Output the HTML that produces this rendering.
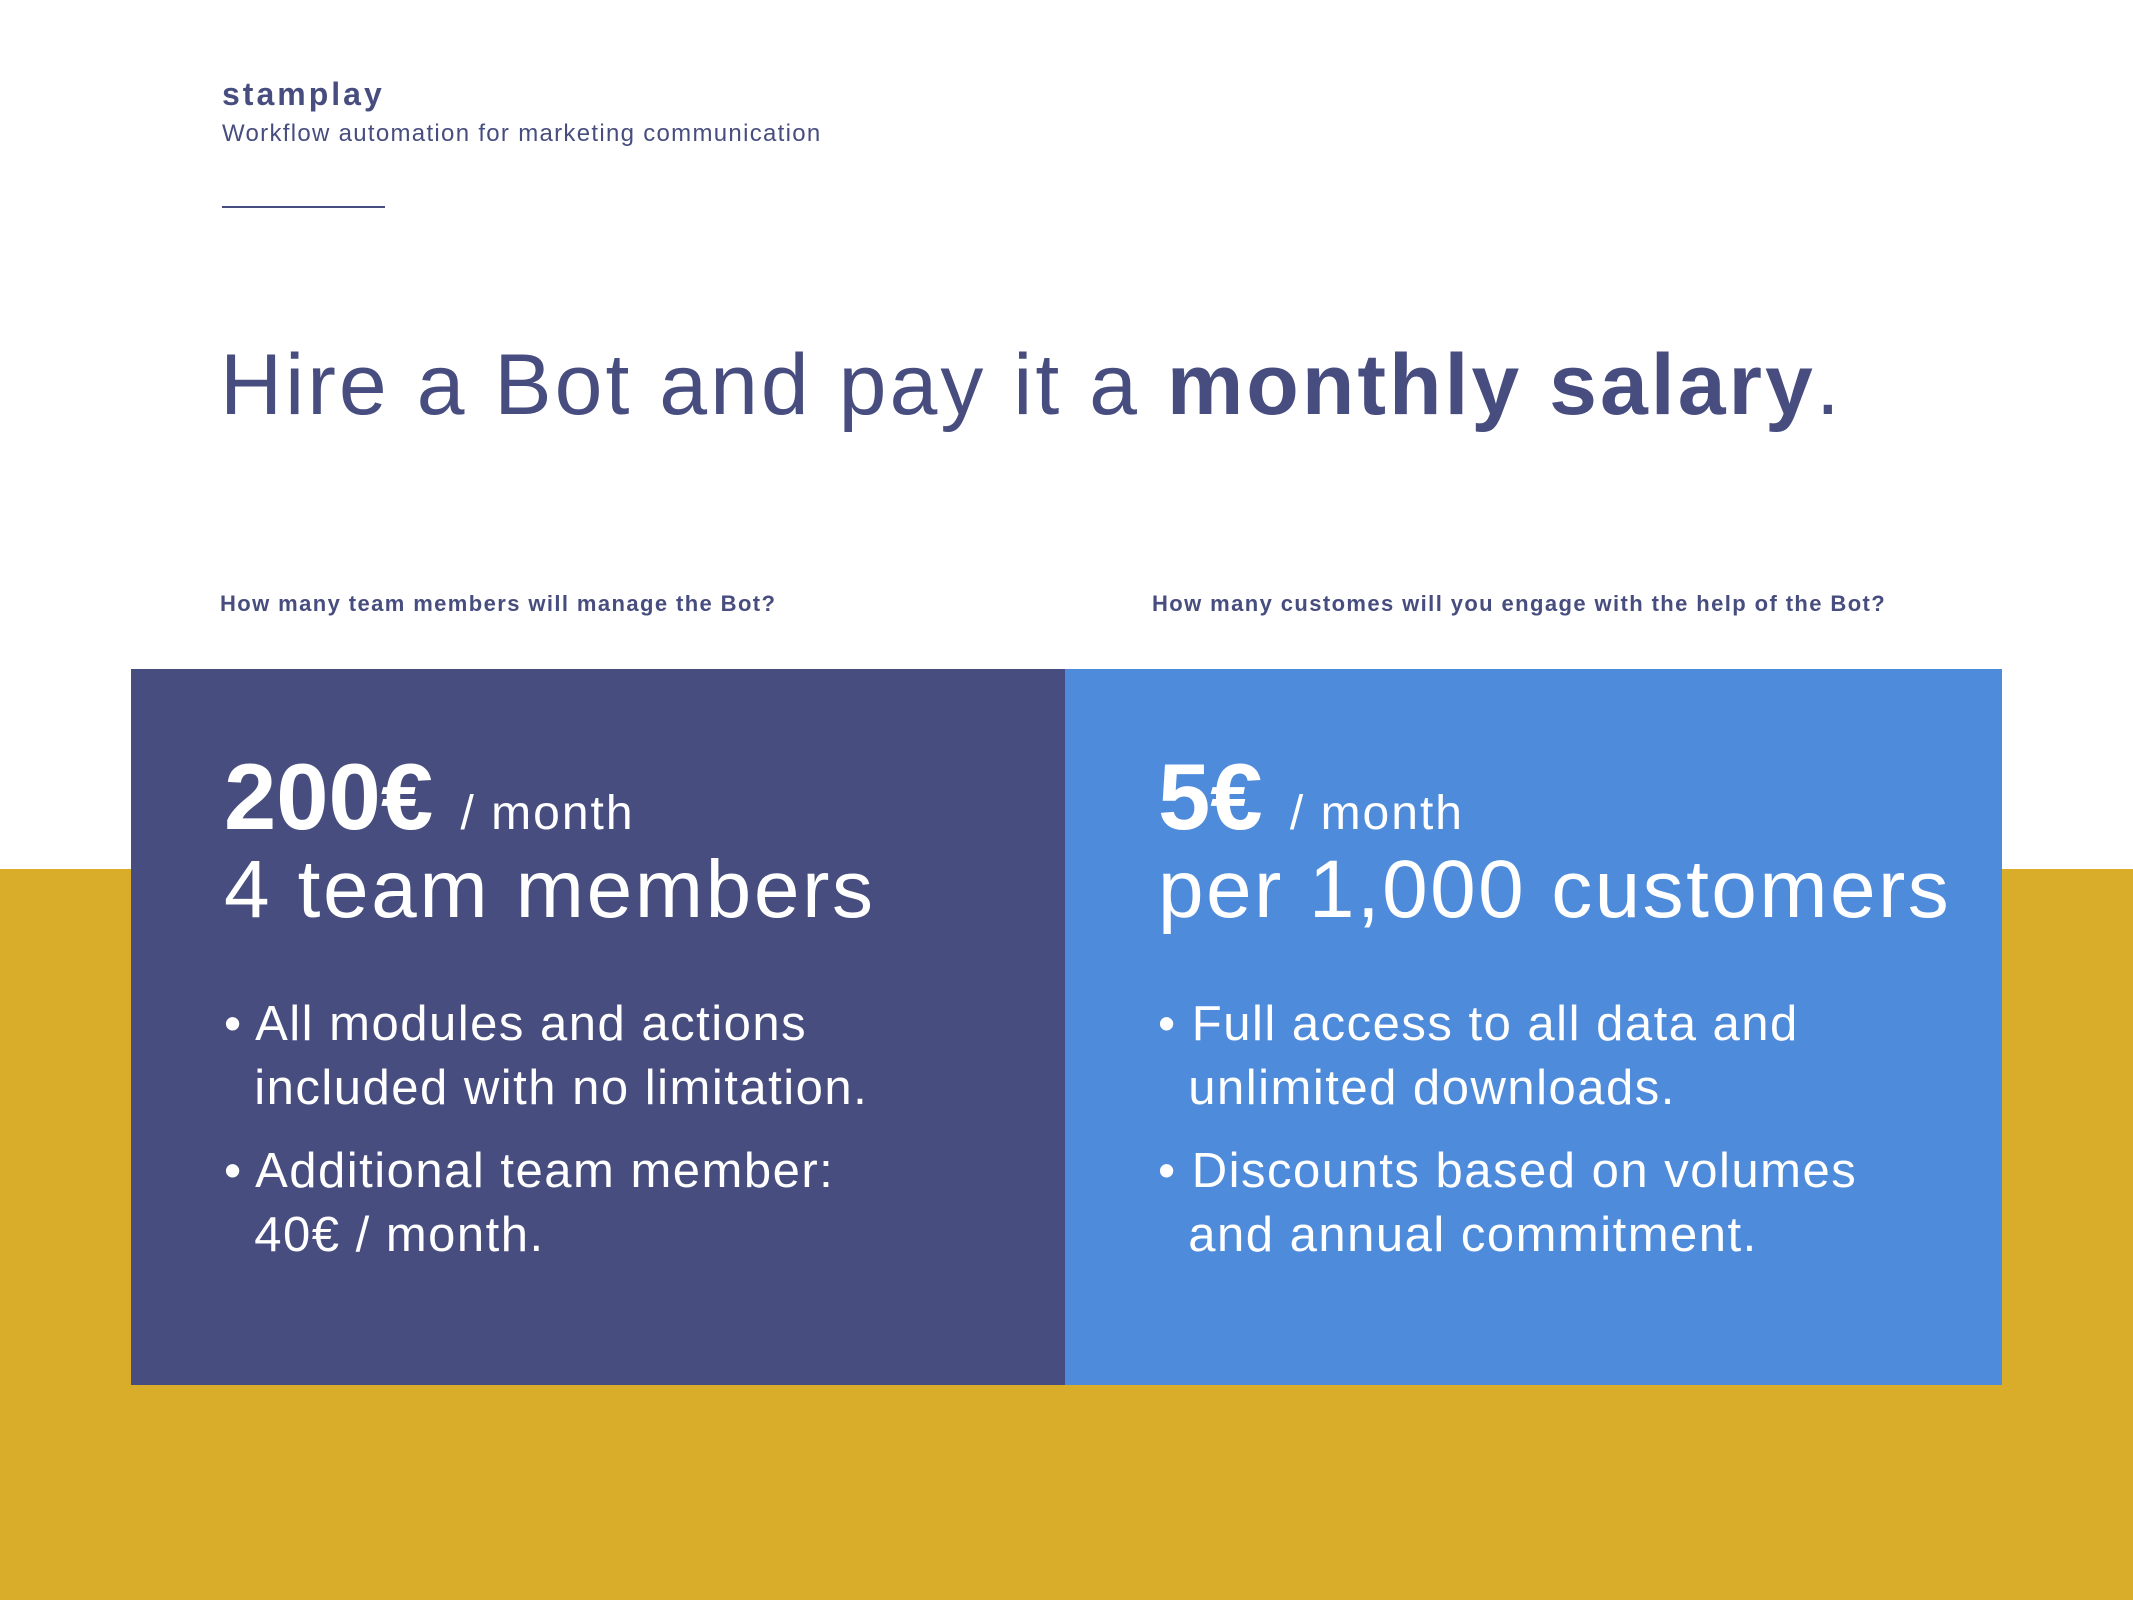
<!DOCTYPE html>
<html><head><meta charset="utf-8"><style>
body{margin:0;width:2133px;height:1600px;position:relative;background:#fff;overflow:hidden;font-family:"Liberation Sans",sans-serif;color:#474E7F}
div{position:absolute;line-height:1;white-space:nowrap}
.w{color:#fff}
</style></head><body>
<div style="left:222px;top:78px;font-size:32px;font-weight:bold;letter-spacing:3px">stamplay</div>
<div style="left:222px;top:122px;font-size:24px;letter-spacing:1.3px">Workflow automation for marketing communication</div>
<div style="left:222px;top:206px;width:163px;height:2px;background:#474E7F"></div>
<div style="left:220px;top:342px;font-size:86px;letter-spacing:3px">Hire a Bot and pay it a <b>monthly salary</b>.</div>
<div style="left:220px;top:593px;font-size:22px;font-weight:bold;letter-spacing:1.4px">How many team members will manage the Bot?</div>
<div style="left:1152px;top:593px;font-size:22px;font-weight:bold;letter-spacing:1.4px">How many customes will you engage with the help of the Bot?</div>
<div style="left:0;top:869px;width:2133px;height:731px;background:#D9AC2A"></div>
<div style="left:131px;top:669px;width:934px;height:716px;background:#474E7F"></div>
<div style="left:1065px;top:669px;width:937px;height:716px;background:#4F8BDB"></div>
<div class="w" style="left:224px;top:750px;font-size:94px"><b>200€</b><span style="font-size:48px;margin-left:12px;letter-spacing:2px"> / month</span></div>
<div class="w" style="left:224px;top:849px;font-size:82px;letter-spacing:2.6px">4 team members</div>
<div class="w" style="left:224px;top:992px;font-size:49px;line-height:64px;letter-spacing:1.5px">• All modules and actions<br>&nbsp; included with no limitation.</div>
<div class="w" style="left:224px;top:1139px;font-size:49px;line-height:64px;letter-spacing:1.5px">• Additional team member:<br>&nbsp; 40€ / month.</div>
<div class="w" style="left:1158px;top:750px;font-size:94px"><b>5€</b><span style="font-size:48px;margin-left:12px;letter-spacing:2px"> / month</span></div>
<div class="w" style="left:1158px;top:849px;font-size:82px;letter-spacing:2.4px">per 1,000 customers</div>
<div class="w" style="left:1158px;top:992px;font-size:49px;line-height:64px;letter-spacing:1.5px">• Full access to all data and<br>&nbsp; unlimited downloads.</div>
<div class="w" style="left:1158px;top:1139px;font-size:49px;line-height:64px;letter-spacing:1.5px">• Discounts based on volumes<br>&nbsp; and annual commitment.</div>
</body></html>
